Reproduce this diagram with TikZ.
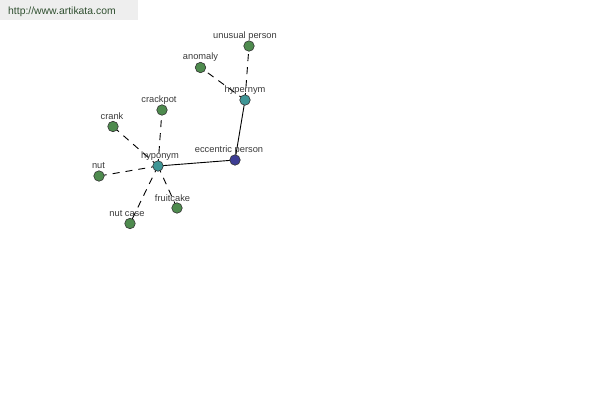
\documentclass[tikz,border=0pt]{standalone}
\usepackage{fontspec}
\setmainfont{Liberation Sans}
\definecolor{leafg}{HTML}{4E8B4E}
\definecolor{relt}{HTML}{3F9696}
\definecolor{rootb}{HTML}{3D3D94}
\definecolor{lbl}{HTML}{3A3A3A}
\definecolor{urlc}{HTML}{2F4F2F}
\definecolor{bann}{HTML}{EEEEEE}
\begin{document}
\begin{tikzpicture}[x=1pt,y=-1pt,
  dot/.style={circle,draw=black!80,line width=0.6pt,minimum size=10.5pt,inner sep=0pt},
  leaf/.style={dot,fill=leafg},
  rel/.style={dot,fill=relt},
  root/.style={dot,fill=rootb},
  lab/.style={font=\fontsize{9.3}{10}\selectfont,text=lbl,inner sep=0pt},
  dashedge/.style={draw=black,line width=0.9pt,dash pattern=on 7pt off 6pt},
  solidedge/.style={draw=black,line width=0.9pt}]
\useasboundingbox (0,0) rectangle (600,400);
\fill[bann] (0,0) rectangle (138,20);
\node[font=\fontsize{10.4}{11}\selectfont,text=urlc,anchor=west,inner sep=0pt] (url) at (8,11.5) {http://www.artikata.com};
% nodes
\coordinate (pUP) at (249,46);
\coordinate (pAN) at (200.5,67.5);
\coordinate (pHE) at (245,100);
\coordinate (pCP) at (162,110);
\coordinate (pCR) at (113,126.5);
\coordinate (pEC) at (235,160);
\coordinate (pHO) at (158,166);
\coordinate (pNU) at (99,176);
\coordinate (pFC) at (177,208);
\coordinate (pNC) at (130,223.5);
% edges
\draw[solidedge] (pHO) -- (pEC);
\draw[solidedge] (pEC) -- (pHE);
\draw[dashedge] (pHE) -- (pUP);
\draw[dashedge] (pHE) -- (pAN);
\draw[dashedge] (pHO) -- (pCP);
\draw[dashedge] (pHO) -- (pCR);
\draw[dashedge] (pHO) -- (pNU);
\draw[dashedge] (pHO) -- (pFC);
\draw[dashedge] (pHO) -- (pNC);
% circles
\node[leaf] (up) at (pUP) {};
\node[leaf] (an) at (pAN) {};
\node[rel] (he) at (pHE) {};
\node[leaf] (cp) at (pCP) {};
\node[leaf] (cr) at (pCR) {};
\node[root] (ec) at (pEC) {};
\node[rel] (ho) at (pHO) {};
\node[leaf] (nu) at (pNU) {};
\node[leaf] (fc) at (pFC) {};
\node[leaf] (nc) at (pNC) {};
% labels
\node[lab] (lup) at (245,36) {unusual person};
\node[lab] (lan) at (200.5,57) {anomaly};
\node[lab] (lhe) at (245,90) {hypernym};
\node[lab] (lcp) at (159,100) {crackpot};
\node[lab] (lcr) at (112,116) {crank};
\node[lab] (lec) at (229,150) {eccentric person};
\node[lab] (lho) at (160,156) {hyponym};
\node[lab] (lnu) at (98.5,166) {nut};
\node[lab] (lfc) at (172.5,198) {fruitcake};
\node[lab] (lnc) at (127,214) {nut case};
\end{tikzpicture}
\end{document}
